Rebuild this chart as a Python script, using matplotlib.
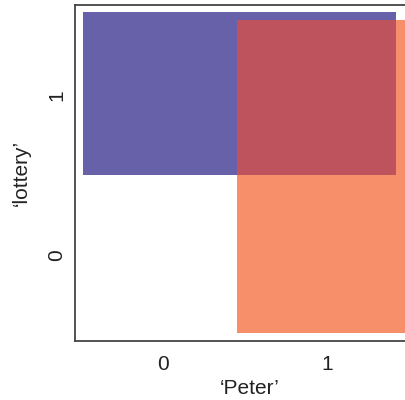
import matplotlib
matplotlib.use("Agg")
import matplotlib.pyplot as plt
from matplotlib.patches import Rectangle

plt.rcParams["font.family"] = ["Liberation Sans", "DejaVu Sans"]

# ---------- Данные ----------
# прямоугольники: (x0, x1, y0, y1) в координатах данных
LOTTERY_BOX = [-0.49, 1.42, 0.50, 1.52]
PETER_BOX = [0.45, 1.55, -0.49, 1.47]
X_TICKS = [0, 1]
Y_TICKS = [0, 1]
X_LABEL = "\u2018Peter\u2019"
Y_LABEL = "\u2018lottery\u2019"

BLUE = "#6761AA"
ORANGE = "#F68F6A"
OVERLAP = "#BE535D"


def rect(box, color, z):
    x0, x1, y0, y1 = box
    return Rectangle((x0, y0), x1 - x0, y1 - y0, facecolor=color,
                     edgecolor="none", zorder=z)


fig = plt.figure(figsize=(4.05, 4.0), dpi=100)
ax = fig.add_axes([0.185, 0.1475, 0.864, 0.84])

ax.add_patch(rect(LOTTERY_BOX, BLUE, 1))
ax.add_patch(rect(PETER_BOX, ORANGE, 2))
# пересечение рисуем отдельным цветом
inter = [max(LOTTERY_BOX[0], PETER_BOX[0]), min(LOTTERY_BOX[1], PETER_BOX[1]),
         max(LOTTERY_BOX[2], PETER_BOX[2]), min(LOTTERY_BOX[3], PETER_BOX[3])]
ax.add_patch(rect(inter, OVERLAP, 3))

ax.set_xlim(-0.537, 1.597)
ax.set_ylim(-0.5375, 1.5625)
ax.set_xticks(X_TICKS)
ax.set_yticks(Y_TICKS)
ax.tick_params(length=0, labelsize=15, colors="#222222")
ax.tick_params(axis="x", pad=10)
ax.tick_params(axis="y", pad=6)
for lab in ax.get_yticklabels():
    lab.set_rotation(90)
    lab.set_va("center")
for s in ax.spines.values():
    s.set_color("#444444")
    s.set_linewidth(1.3)

ax.set_xlabel(X_LABEL, fontsize=15, labelpad=4, color="#222222")
ax.set_ylabel(Y_LABEL, fontsize=15, labelpad=12, color="#222222")

fig.savefig("out.png", dpi=100)
